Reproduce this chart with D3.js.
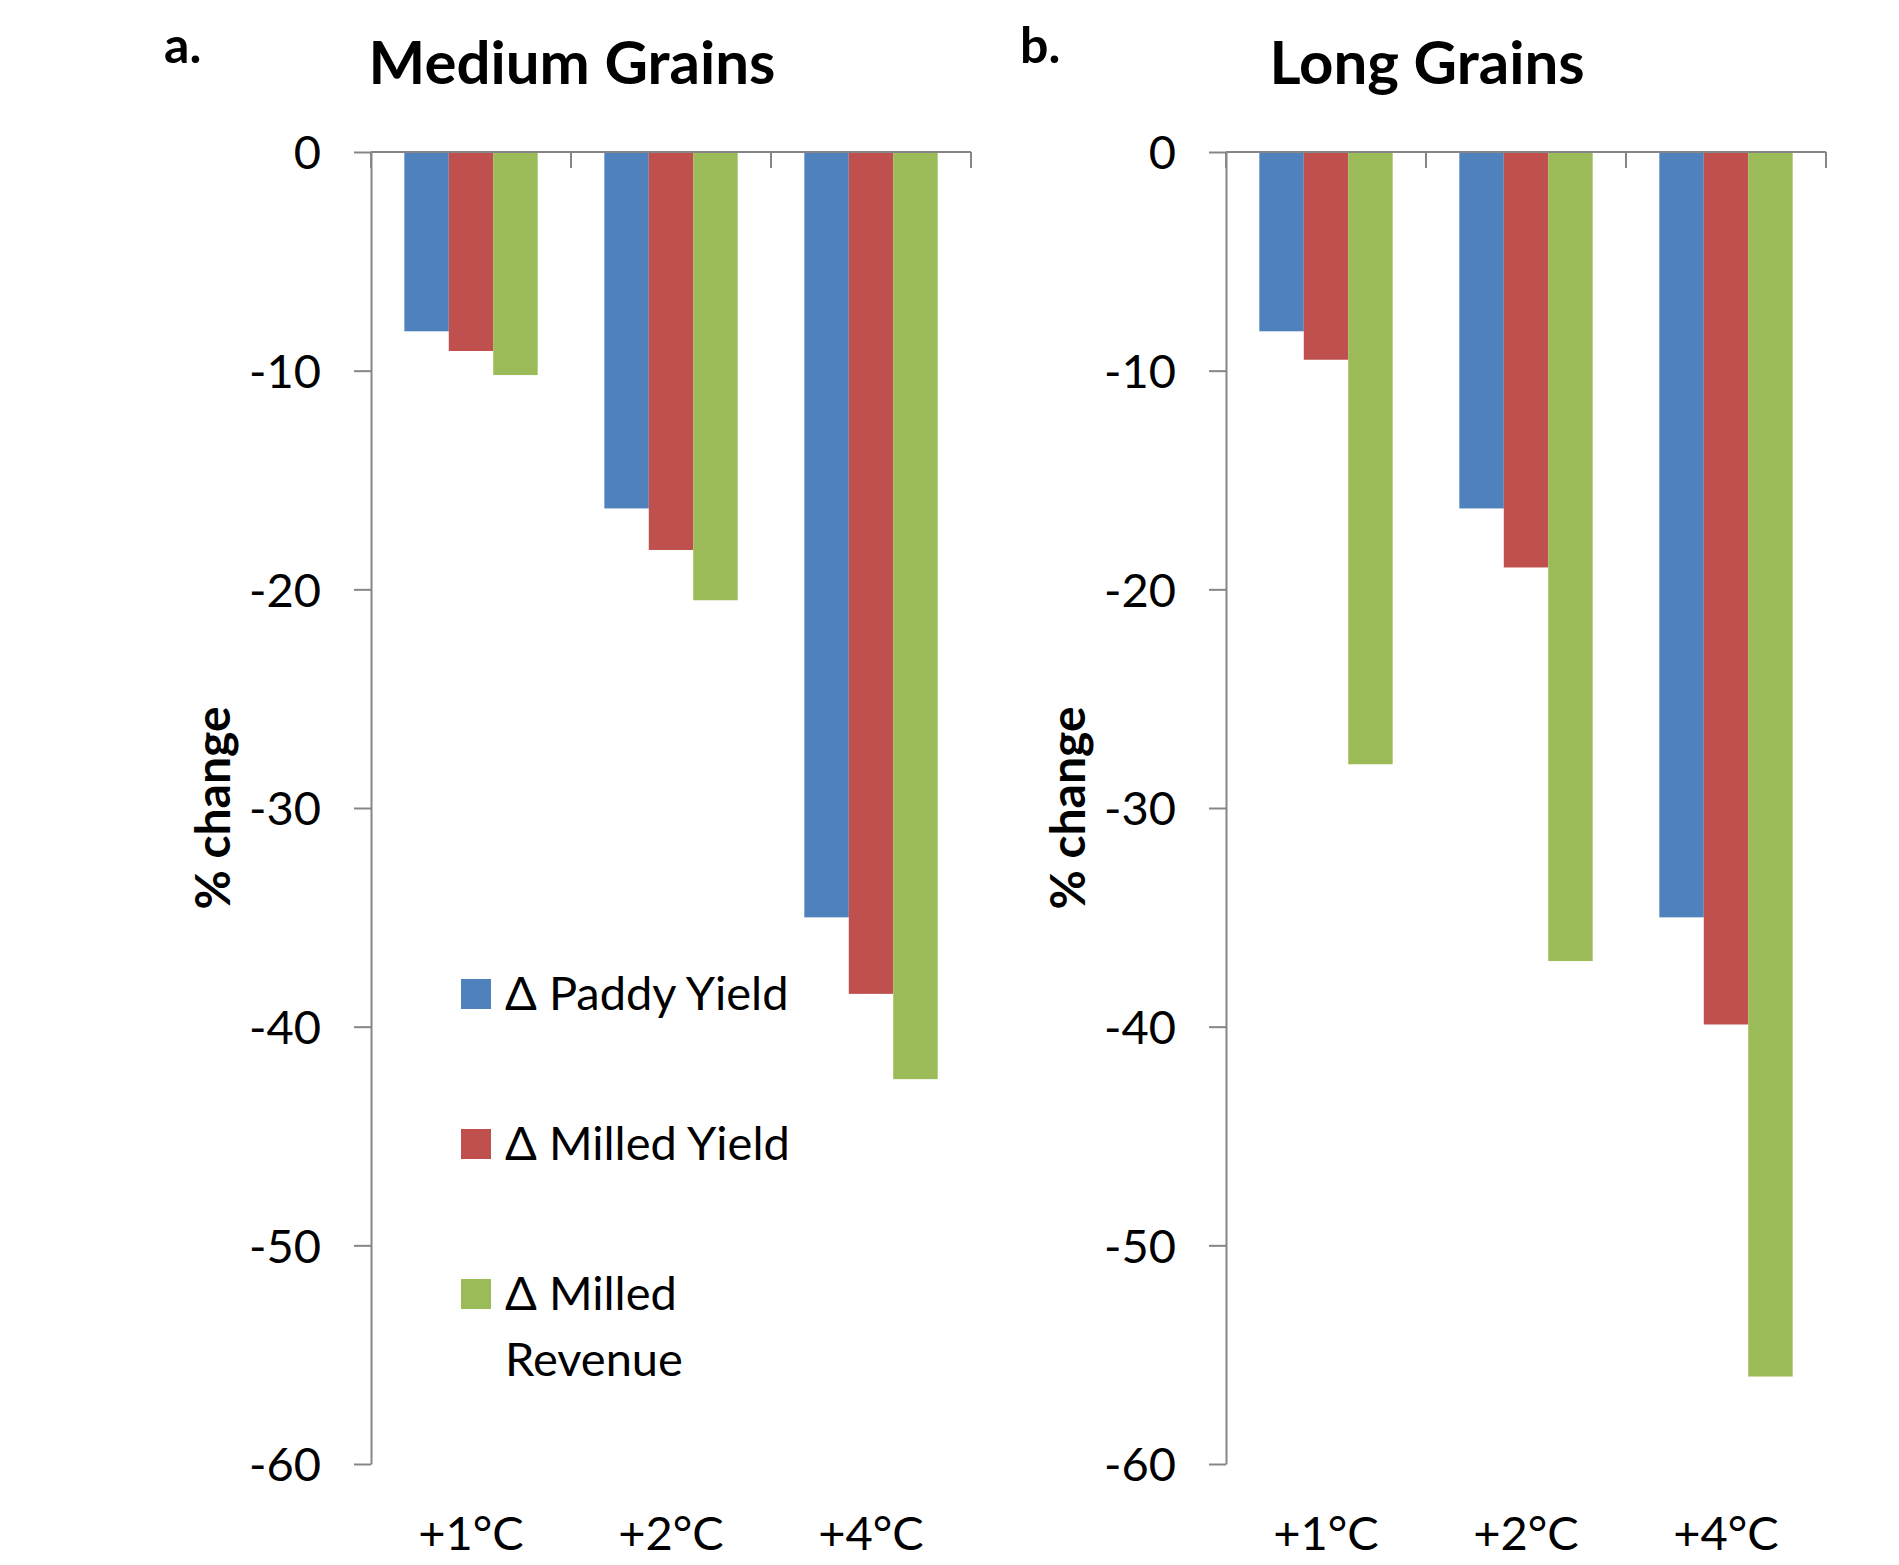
<!DOCTYPE html>
<html>
<head>
<meta charset="utf-8">
<script src="https://cdn.jsdelivr.net/npm/d3@7"></script>
<style>
  html, body { margin: 0; padding: 0; background: #ffffff; }
  svg { display: block; }
  text { font-family: Lato, "Open Sans", sans-serif; fill: #000; }
</style>
</head>
<body>
<svg id="chart" width="1899" height="1565"></svg>
<script>
// Warming scenarios along the category axis
const categories = ["+1°C", "+2°C", "+4°C"];

// Series names (legend order)
const seriesNames = ["Δ Paddy Yield", "Δ Milled Yield", "Δ Milled Revenue"];
const seriesColors = ["#4F81BD", "#C0504D", "#9BBB59"];

// Medium grains: % change per scenario
const mediumPaddyYield   = [-8.2, -16.3, -35.0];
const mediumMilledYield  = [-9.1, -18.2, -38.5];
const mediumMilledRevenue = [-10.2, -20.5, -42.4];

// Long grains: % change per scenario
const longPaddyYield   = [-8.2, -16.3, -35.0];
const longMilledYield  = [-9.5, -19.0, -39.9];
const longMilledRevenue = [-28.0, -37.0, -56.0];

// Value axis ticks
const yTicks = [0, -10, -20, -30, -40, -50, -60];

const svg = d3.select("#chart");
const axisColor = "#868686";

const plotTop = 152, plotBottom = 1464;
const y = d3.scaleLinear().domain([0, -60]).range([plotTop, plotBottom]);

const panels = [
  { letter: "a.", title: "Medium Grains", left: 371, right: 971, titleX: 572, letterX: 164,
    series: [mediumPaddyYield, mediumMilledYield, mediumMilledRevenue], legend: true },
  { letter: "b.", title: "Long Grains", left: 1226, right: 1826, titleX: 1427, letterX: 1020,
    series: [longPaddyYield, longMilledYield, longMilledRevenue], legend: false }
];

panels.forEach(p => {
  const g = svg.append("g");

  const x = d3.scaleBand().domain(categories).range([p.left, p.right]).padding(0);
  const bw = x.bandwidth();
  const barW = bw / 4.5;
  const inner = d3.scaleBand()
    .domain(d3.range(seriesNames.length))
    .range([barW * 0.75, barW * 0.75 + barW * 3])
    .padding(0);

  // bars
  p.series.forEach((vals, si) => {
    g.append("g")
      .selectAll("rect")
      .data(vals)
      .join("rect")
      .attr("x", (d, i) => x(categories[i]) + inner(si))
      .attr("y", y(0))
      .attr("width", inner.bandwidth())
      .attr("height", d => y(d) - y(0))
      .attr("fill", seriesColors[si]);
  });

  // value axis
  const yAxis = d3.axisLeft(y)
    .tickValues(yTicks)
    .tickFormat(d => String(d))
    .tickSize(17)
    .tickPadding(33)
    .tickSizeOuter(0);
  const ya = g.append("g").attr("transform", `translate(${p.left},0)`).call(yAxis);
  ya.select(".domain").attr("stroke", axisColor).attr("stroke-width", 2);
  ya.selectAll(".tick line").attr("stroke", axisColor).attr("stroke-width", 2);
  ya.selectAll(".tick text")
    .attr("font-family", "Lato, sans-serif")
    .attr("font-size", 47)
    .attr("fill", "#000")
    .attr("dy", "0.36em");

  // category axis along zero line, ticks at category boundaries
  const xa = g.append("g");
  xa.append("line")
    .attr("x1", p.left).attr("x2", p.right)
    .attr("y1", y(0)).attr("y2", y(0))
    .attr("stroke", axisColor).attr("stroke-width", 2);
  const bounds = categories.map(c => x(c)).concat([p.right]);
  xa.selectAll("line.tick")
    .data(bounds)
    .join("line")
    .attr("class", "tick")
    .attr("x1", d => d).attr("x2", d => d)
    .attr("y1", y(0)).attr("y2", y(0) + 16)
    .attr("stroke", axisColor).attr("stroke-width", 2);

  // category labels below the plot
  g.selectAll("text.cat")
    .data(categories)
    .join("text")
    .attr("class", "cat")
    .attr("x", d => x(d) + bw / 2)
    .attr("y", 1550)
    .attr("text-anchor", "middle")
    .attr("font-size", 47)
    .text(d => d);

  // axis title
  g.append("text")
    .attr("transform", `translate(${p.left - 141},808) rotate(-90)`)
    .attr("text-anchor", "middle")
    .attr("font-family", "'Liberation Sans', Arial, sans-serif")
    .attr("font-weight", "bold")
    .attr("font-size", 48)
    .text("% change");

  // panel title and letter
  g.append("text")
    .attr("x", p.titleX).attr("y", 84)
    .attr("text-anchor", "middle")
    .attr("font-weight", "bold")
    .attr("font-size", 60)
    .text(p.title);
  g.append("text")
    .attr("x", p.letterX).attr("y", 63)
    .attr("font-weight", "bold")
    .attr("font-size", 50)
    .text(p.letter);

  // legend
  if (p.legend) {
    const lx = 461, sq = 30;
    const rows = [
      { lines: ["Δ Paddy Yield"], cy: 994 },
      { lines: ["Δ Milled Yield"], cy: 1144 },
      { lines: ["Δ Milled", "Revenue"], cy: 1294 }
    ];
    rows.forEach((r, i) => {
      g.append("rect")
        .attr("x", lx).attr("y", r.cy - sq / 2)
        .attr("width", sq).attr("height", sq)
        .attr("fill", seriesColors[i]);
      const t = g.append("text")
        .attr("x", 504).attr("y", r.cy + 16)
        .attr("font-size", 47);
      r.lines.forEach((ln, li) => {
        t.append("tspan")
          .attr("x", 505)
          .attr("dy", li === 0 ? 0 : 66)
          .text(ln);
      });
    });
  }
});
</script>
</body>
</html>
